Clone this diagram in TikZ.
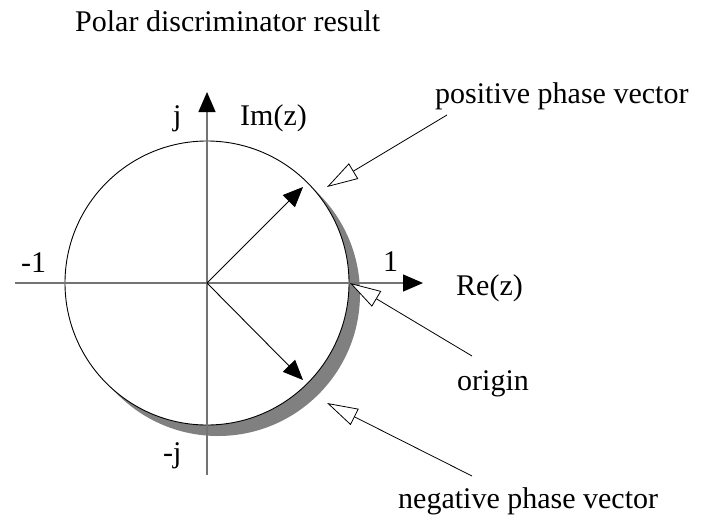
\documentclass[tikz,border=0pt]{standalone}
\usepackage{fontspec}
\setmainfont{Liberation Serif}
\usetikzlibrary{arrows.meta}

\begin{document}
\begin{tikzpicture}[x=1pt,y=-1pt,
  lbl/.style={anchor=base west,inner sep=0pt,font=\fontsize{30}{36}\selectfont},
  axis/.style={-{Triangle[length=20pt,width=17pt,color=black]},draw=black!55,line width=1.3pt},
  vec/.style={-{Triangle[length=20pt,width=17pt]},line width=0.9pt},
  callout/.style={{Triangle[fill=white,length=31pt,width=18pt]}-,line width=0.8pt}]
  \useasboundingbox (0,0) rectangle (708,519);
  % unit circle with its shadow
  \coordinate (O) at (207,283);
  \fill[black!50] ([shift={(11,11)}]O) circle (142pt);
  \draw[line width=0.9pt,fill=white] (O) circle (142pt);
  % axes
  \coordinate (xl) at (15,283);
  \coordinate (xr) at (423,283);
  \coordinate (yb) at (207,475);
  \coordinate (yt) at (207,92);
  \draw[axis] (xl) -- (xr);
  \draw[axis] (yb) -- (yt);
  % phase vectors
  \coordinate (vpos) at (303,187);
  \coordinate (vneg) at (303,380);
  \draw[vec] (O) -- (vpos);
  \draw[vec] (O) -- (vneg);
  % labels
  \node[lbl] (title) at (75,31) {Polar discriminator result};
  \node[lbl] (jup) at (173,125) {j};
  \node[lbl] (imz) at (240,125) {Im(z)};
  \node[lbl] (mone) at (21,272) {-1};
  \node[lbl] (one) at (383,271) {1};
  \node[lbl] (rez) at (456,295) {Re(z)};
  \node[lbl] (jdn) at (163,462) {-j};
  \node[lbl] (posl) at (435,103) {positive phase vector};
  \node[lbl] (orgl) at (457,390) {origin};
  \node[lbl] (negl) at (398,508) {negative phase vector};
  % callouts
  \coordinate (tpos) at (327,187);
  \coordinate (epos) at (447,115);
  \coordinate (torg) at (350,283);
  \coordinate (eorg) at (472,356);
  \coordinate (tneg) at (327,403);
  \coordinate (eneg) at (472,476);
  \draw[callout] (tpos) -- (epos);
  \draw[callout] (torg) -- (eorg);
  \draw[callout] (tneg) -- (eneg);
\end{tikzpicture}
\end{document}
